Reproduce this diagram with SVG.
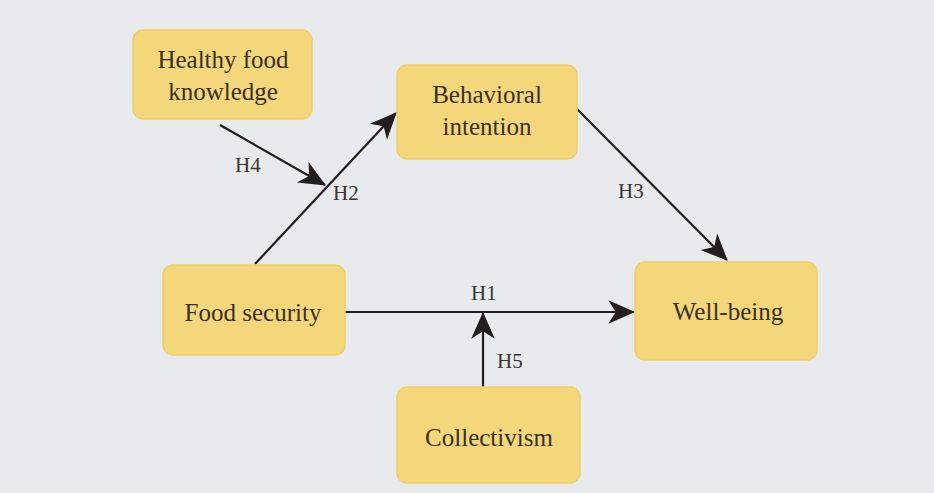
<svg xmlns="http://www.w3.org/2000/svg" width="934" height="493" viewBox="0 0 934 493">
<defs>
<style>
.box{fill:#f3d77a;stroke:#f0d06a;stroke-width:1.5}
.lbl{font-family:"Liberation Serif","Times New Roman",serif;font-size:25px;fill:#3a3026;text-anchor:middle}
.hl{font-family:"Liberation Serif","Times New Roman",serif;font-size:21px;fill:#3a3430}
.ln{stroke:#231d1d;stroke-width:2.2;fill:none;marker-end:url(#ah)}
</style>
<marker id="ah" markerUnits="userSpaceOnUse" markerWidth="30" markerHeight="30" refX="0" refY="0" viewBox="-26 -13 28 26" orient="auto">
<path d="M1,0 L-24,-11 L-17,0 L-24,11 Z" fill="#231d1d"/>
</marker>
</defs>
<rect width="934" height="493" fill="#e8eaed"/>
<g id="connectors">
<line class="ln" x1="220" y1="125" x2="325" y2="185"/>
<line class="ln" x1="255" y1="264" x2="396" y2="113"/>
<line class="ln" x1="575" y1="107" x2="727" y2="260"/>
<line class="ln" x1="345" y1="312" x2="634" y2="312"/>
<line class="ln" x1="483" y1="387" x2="483" y2="313"/>
<text class="hl" x="235" y="172">H4</text>
<text class="hl" x="333" y="200">H2</text>
<text class="hl" x="618" y="198">H3</text>
<text class="hl" x="471" y="300">H1</text>
<text class="hl" x="497" y="368">H5</text>
</g>
<g id="healthy-food-knowledge">
<rect class="box" x="133" y="30" width="179" height="89" rx="10"/>
<text class="lbl" x="223" y="68">Healthy food</text>
<text class="lbl" x="223" y="100">knowledge</text>
</g>
<g id="behavioral-intention">
<rect class="box" x="397" y="65" width="180" height="94" rx="10"/>
<text class="lbl" x="487" y="103">Behavioral</text>
<text class="lbl" x="487" y="135">intention</text>
</g>
<g id="food-security">
<rect class="box" x="163" y="265" width="182" height="90" rx="10"/>
<text class="lbl" x="253" y="321">Food security</text>
</g>
<g id="well-being">
<rect class="box" x="635" y="262" width="182" height="98" rx="10"/>
<text class="lbl" x="728" y="320">Well-being</text>
</g>
<g id="collectivism">
<rect class="box" x="397" y="387" width="183" height="96" rx="10"/>
<text class="lbl" x="489" y="446">Collectivism</text>
</g>
</svg>
